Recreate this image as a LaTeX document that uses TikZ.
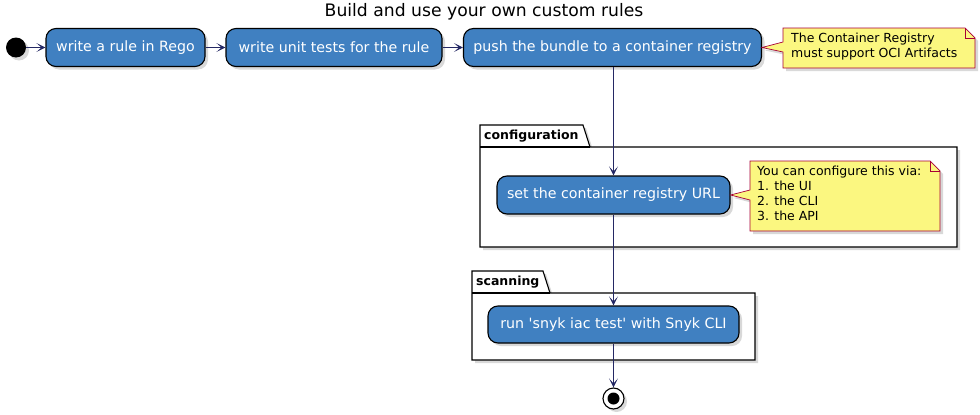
\documentclass[tikz,border=0pt]{standalone}
\usepackage{fontspec}
\setmainfont{DejaVu Sans}[Ligatures=TeXOff]
\usetikzlibrary{arrows.meta,shadows,calc}
\definecolor{actfill}{RGB}{64,128,193}
\definecolor{flow}{RGB}{36,40,100}
\definecolor{notefill}{RGB}{251,247,128}
\definecolor{noteline}{RGB}{168,0,54}
\begin{document}
\begin{tikzpicture}[x=1pt,y=-1pt,
  shade/.style={drop shadow={opacity=0.3, shadow xshift=3pt, shadow yshift=-3pt}},
  action/.style={draw=black, line width=1.1pt, fill=actfill, rounded corners=10pt,
    text=white, font=\fontsize{14.2}{16}\selectfont, minimum height=38pt,
    inner sep=0pt, shade},
  flowline/.style={draw=flow, line width=0.9pt,
    -{Stealth[length=9pt,width=9pt,inset=5pt]}},
  notetext/.style={font=\fontsize{12.5}{15}\selectfont, align=left,
    inner sep=0pt, anchor=north west},
  noteshape/.style={draw=noteline, line width=0.7pt, fill=notefill, shade},
  pkg/.style={draw=black, line width=1.1pt, fill=white, shade},
  pkglabel/.style={font=\bfseries\fontsize{12.5}{14}\selectfont, inner sep=0pt,
    anchor=west}
]
\useasboundingbox (0,0) rectangle (980,415);

% title
\node[font=\fontsize{17.2}{20}\selectfont] (title) at (484,12)
  {Build and use your own custom rules};

% packages
\path[pkg] (480,125) -- (583,125) -- (590,147) -- (957,147) -- (957,247)
  -- (480,247) -- cycle;
\draw[line width=1.1pt] (480,147) -- (590,147);
\node[pkglabel] (cfglabel) at (484,136) {configuration};

\path[pkg] (472,271) -- (543,271) -- (550,293) -- (755,293) -- (755,360)
  -- (472,360) -- cycle;
\draw[line width=1.1pt] (472,293) -- (550,293);
\node[pkglabel] (scanlabel) at (476,282) {scanning};

% start and end
\node[circle, fill=black, minimum size=20pt, inner sep=0pt, shade] (start) at (16,47.5) {};
\node[circle, draw=black, line width=1.1pt, fill=white, minimum size=21pt,
  inner sep=0pt, shade] (stop) at (613.5,398.5) {};
\fill[black] (stop.center) circle (6pt);

% actions
\node[action, minimum width=159pt] (a1) at (125.5,47.5) {write a rule in Rego};
\node[action, minimum width=216pt] (a2) at (334,47.5) {write unit tests for the rule};
\node[action, minimum width=298pt] (a3) at (612.5,47.5) {push the bundle to a container registry};
\node[action, minimum width=233pt] (a4) at (613.5,195) {set the container registry URL};
\node[action, minimum width=251pt, minimum height=37pt] (a5) at (613.5,324.5) {run 'snyk iac test' with Snyk CLI};

% notes
\path[noteshape] (783,28) -- (965,28) -- (975,38) -- (975,68) -- (783,68)
  -- (783,52) -- (a3.east) -- (783,42) -- cycle;
\draw[draw=noteline, line width=0.7pt] (965,28) -- (965,38) -- (975,38);
\node[notetext] (n1) at (791,33) {The Container Registry\\must support OCI Artifacts};

\path[noteshape] (750,161) -- (930,161) -- (940,171) -- (940,231) -- (750,231)
  -- (750,200) -- (a4.east) -- (750,190) -- cycle;
\draw[draw=noteline, line width=0.7pt] (930,161) -- (930,171) -- (940,171);
\node[notetext] (n2) at (757,166) {You can configure this via:\\1. the UI\\2. the CLI\\3. the API};

% flow
\draw[flowline] (start) -- (a1);
\draw[flowline] (a1) -- (a2);
\draw[flowline] (a2) -- (a3);
\draw[flowline] (a3.south -| a4.north) -- (a4.north);
\draw[flowline] (a4) -- (a5);
\draw[flowline] (a5) -- (stop);
\end{tikzpicture}
\end{document}
